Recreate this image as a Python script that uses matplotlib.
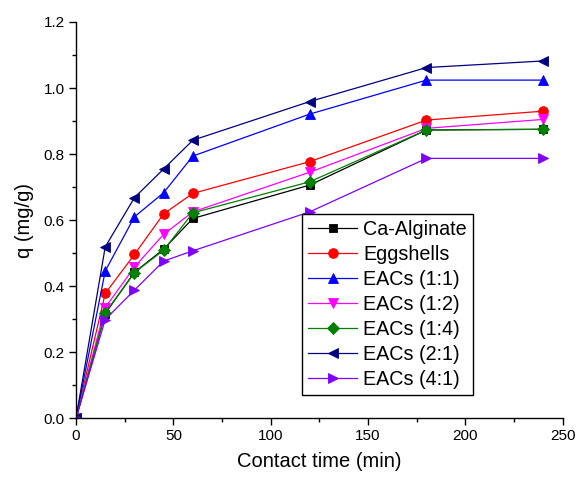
import matplotlib
matplotlib.use("Agg")
import matplotlib.pyplot as plt
from matplotlib.ticker import MultipleLocator, FormatStrFormatter

plt.rcParams['font.family'] = ['Liberation Sans', 'DejaVu Sans']

# Contact time (min)
time = [0, 15, 30, 45, 60, 120, 180, 240]

# Adsorption capacity q (mg/g) for each adsorbent
ca_alginate = [0.0, 0.317, 0.442, 0.512, 0.605, 0.706, 0.873, 0.875]
eggshells   = [0.0, 0.378, 0.496, 0.619, 0.681, 0.777, 0.903, 0.930]
eacs_1_1    = [0.0, 0.446, 0.610, 0.683, 0.794, 0.921, 1.024, 1.024]
eacs_1_2    = [0.0, 0.335, 0.458, 0.557, 0.625, 0.745, 0.878, 0.905]
eacs_1_4    = [0.0, 0.319, 0.441, 0.509, 0.622, 0.716, 0.873, 0.875]
eacs_2_1    = [0.0, 0.519, 0.668, 0.755, 0.842, 0.959, 1.062, 1.082]
eacs_4_1    = [0.0, 0.299, 0.388, 0.476, 0.507, 0.625, 0.787, 0.787]

labels = ["Ca-Alginate", "Eggshells", "EACs (1:1)", "EACs (1:2)",
          "EACs (1:4)", "EACs (2:1)", "EACs (4:1)"]
series = [ca_alginate, eggshells, eacs_1_1, eacs_1_2, eacs_1_4, eacs_2_1, eacs_4_1]
colors = ["#000000", "#FF0000", "#0000FF", "#FF00FF", "#008000", "#000080", "#8000FF"]
markers = ["s", "o", "^", "v", "D", "<", ">"]
msizes = [6, 7, 7.5, 7.5, 6, 7.5, 7.5]

fig = plt.figure(figsize=(5.76, 4.78), dpi=100)
ax = fig.add_axes([0.132, 0.125, 0.845, 0.829])

for y, lab, c, m, ms in zip(series, labels, colors, markers, msizes):
    ax.plot(time, y, color=c, marker=m, markersize=ms, linewidth=0.9,
            markeredgewidth=0.6, label=lab)

ax.set_xlim(0, 250)
ax.set_ylim(0, 1.2)
ax.xaxis.set_major_locator(MultipleLocator(50))
ax.xaxis.set_minor_locator(MultipleLocator(25))
ax.yaxis.set_major_locator(MultipleLocator(0.2))
ax.yaxis.set_minor_locator(MultipleLocator(0.1))
ax.yaxis.set_major_formatter(FormatStrFormatter('%.1f'))

for side in ("top", "right"):
    ax.spines[side].set_visible(False)
for side in ("left", "bottom"):
    ax.spines[side].set_linewidth(1.0)

ax.tick_params(which="major", direction="out", length=5, width=1.0,
               labelsize=11, pad=3)
ax.tick_params(which="minor", direction="out", length=3, width=1.0)

ax.set_xlabel("Contact time (min)", fontsize=14.5, labelpad=6)
ax.set_ylabel("q (mg/g)", fontsize=14.5, labelpad=7)

leg = ax.legend(loc="upper left", bbox_to_anchor=(0.4647, 0.515),
                fontsize=14.2, frameon=True, fancybox=False, framealpha=1,
                edgecolor="black", handlelength=2.5, handletextpad=0.3,
                labelspacing=0.3, borderpad=0.3, borderaxespad=0)
leg.get_frame().set_linewidth(1.0)

fig.savefig("out.png", dpi=100)
